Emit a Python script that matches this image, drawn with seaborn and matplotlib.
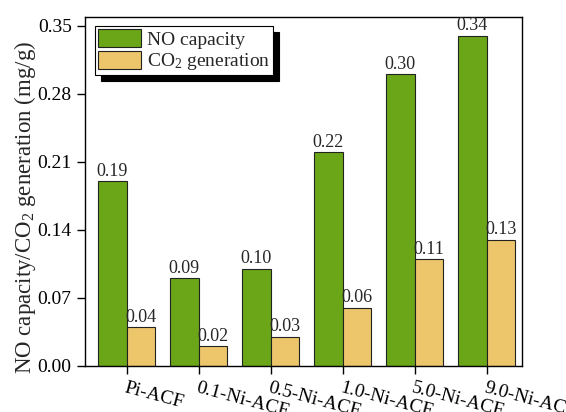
import matplotlib
matplotlib.use("Agg")
import matplotlib.pyplot as plt
import seaborn as sns
import pandas as pd

categories = ["Pi-ACF", "0.1-Ni-ACF", "0.5-Ni-ACF", "1.0-Ni-ACF", "5.0-Ni-ACF", "9.0-Ni-ACF"]
no_capacity = [0.19, 0.09, 0.10, 0.22, 0.30, 0.34]
co2_generation = [0.04, 0.02, 0.03, 0.06, 0.11, 0.13]
series_names = ["NO capacity", "CO$_2$ generation"]
yticks = [0.00, 0.07, 0.14, 0.21, 0.28, 0.35]

sns.set_theme(style="ticks")
plt.rcParams['font.family'] = ['Liberation Serif', 'DejaVu Serif']
plt.rcParams['mathtext.fontset'] = 'custom'
plt.rcParams['mathtext.rm'] = 'Liberation Serif'
plt.rcParams['mathtext.it'] = 'Liberation Serif:italic'

df = pd.DataFrame({
    "cat": categories * 2,
    "val": no_capacity + co2_generation,
    "series": [series_names[0]] * 6 + [series_names[1]] * 6,
})

fig = plt.figure(figsize=(5.66, 4.12), dpi=100)
ax = fig.add_axes([0.150, 0.112, 0.772, 0.847])
sns.barplot(data=df, x="cat", y="val", hue="series", order=categories,
            hue_order=series_names, palette=["#6aa618", "#edc56b"],
            width=0.8, edgecolor="#222222", linewidth=0.8, errorbar=None,
            saturation=1, ax=ax)

for cont in ax.containers:
    ax.bar_label(cont, labels=[f"{v.get_height():.2f}" for v in cont],
                 padding=1, fontsize=13)

ax.set_xlim(-0.58, 5.49)
ax.set_ylim(0, 0.3593)
ax.set_yticks(yticks)
ax.set_yticklabels([f"{t:.2f}" for t in yticks], fontsize=14)
ax.set_xlabel("")
ax.set_ylabel("NO capacity/CO$_2$ generation (mg/g)", fontsize=16.5)
ax.yaxis.set_label_coords(-0.107, 0.455)
ax.set_xticks(range(len(categories)))
ax.set_xticklabels(categories, rotation=-15, ha="left", rotation_mode="anchor", fontsize=14)
ax.tick_params(axis="both", direction="out", length=6, width=1, colors="black")
for s in ax.spines.values():
    s.set_color("black")
    s.set_linewidth(1)

leg = ax.legend(loc="upper left", bbox_to_anchor=(0.015, 0.985), fontsize=14,
                frameon=True, fancybox=False,
                shadow={"color": "black", "alpha": 1, "ox": 4, "oy": -4},
                edgecolor="black", framealpha=1, borderpad=0.15, handlelength=2.2,
                handleheight=1.05, labelspacing=0.1, handletextpad=0.3, borderaxespad=0.2)
leg.get_frame().set_linewidth(0.8)

fig.savefig("out.png", dpi=100)
